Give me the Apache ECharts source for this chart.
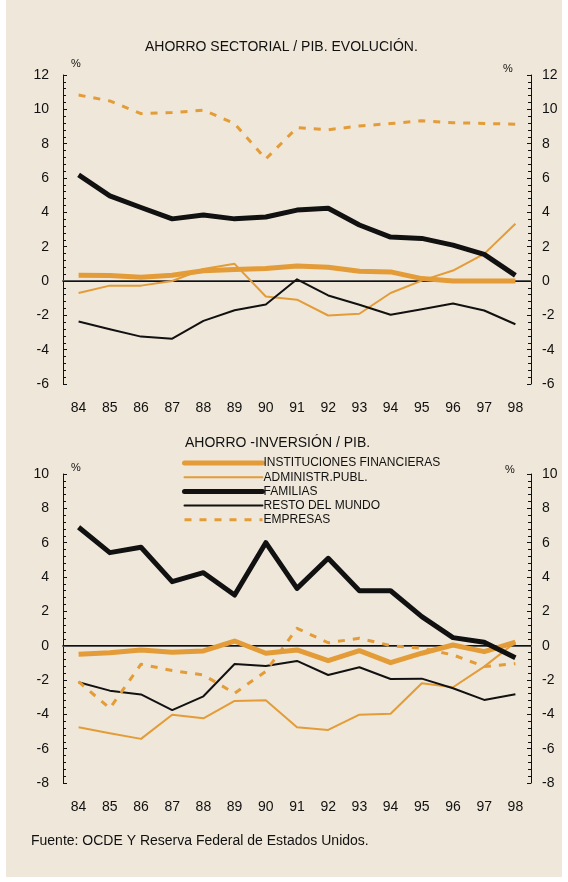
<!DOCTYPE html>
<html>
<head>
<meta charset="utf-8">
<script src="https://cdn.jsdelivr.net/npm/echarts@6/dist/echarts.min.js"></script>
<style>
  html, body { margin: 0; padding: 0; background: #ffffff; }
  #chart { width: 568px; height: 882px; }
</style>
</head>
<body>
<div id="chart"></div>
<script>
// años
var years = ['84', '85', '86', '87', '88', '89', '90', '91', '92', '93', '94', '95', '96', '97', '98'];

// ahorro sectorial / PIB
var topInst = [0.33, 0.32, 0.22, 0.33, 0.6, 0.67, 0.73, 0.88, 0.8, 0.57, 0.53, 0.14, 0.0, 0.0, 0.0];
var topAdmin = [-0.7, -0.27, -0.27, 0.0, 0.7, 1.0, -0.9, -1.09, -2.01, -1.91, -0.7, 0.02, 0.61, 1.58, 3.34];
var topFam = [6.18, 4.96, 4.28, 3.62, 3.85, 3.62, 3.73, 4.13, 4.24, 3.26, 2.56, 2.48, 2.09, 1.55, 0.33];
var topResto = [-2.36, -2.81, -3.24, -3.36, -2.32, -1.7, -1.37, 0.1, -0.84, -1.38, -1.97, -1.64, -1.31, -1.72, -2.52];
var topEmp = [10.83, 10.49, 9.75, 9.81, 9.95, 9.17, 7.11, 8.93, 8.81, 9.03, 9.17, 9.34, 9.22, 9.18, 9.13];

// ahorro - inversión / PIB
var botInst = [-0.5, -0.41, -0.25, -0.39, -0.31, 0.27, -0.44, -0.25, -0.87, -0.29, -0.99, -0.44, 0.04, -0.35, 0.2];
var botAdmin = [-4.75, -5.1, -5.43, -4.02, -4.23, -3.22, -3.18, -4.75, -4.91, -4.02, -3.97, -2.19, -2.42, -1.22, 0.2];
var botFam = [6.9, 5.42, 5.73, 3.73, 4.25, 2.95, 6.0, 3.34, 5.09, 3.2, 3.2, 1.69, 0.47, 0.2, -0.7];
var botResto = [-2.13, -2.62, -2.84, -3.75, -2.95, -1.07, -1.18, -0.89, -1.71, -1.26, -1.94, -1.92, -2.48, -3.16, -2.83];
var botEmp = [-2.1, -3.65, -1.08, -1.45, -1.71, -2.77, -1.5, 1.01, 0.17, 0.43, 0.0, -0.15, -0.54, -1.22, -1.05];

var names = ['INSTITUCIONES FINANCIERAS', 'ADMINISTR.PUBL.', 'FAMILIAS', 'RESTO DEL MUNDO', 'EMPRESAS'];

var ORANGE = '#e39c37';
var INK = '#111111';
var FONT = 'Liberation Sans, Arial, Helvetica, sans-serif';

var styles = [
  {color: ORANGE, width: 5, type: 'solid'},
  {color: ORANGE, width: 2, type: 'solid'},
  {color: INK, width: 5, type: 'solid'},
  {color: INK, width: 2, type: 'solid'},
  {color: ORANGE, width: 3, type: [7, 8]}
];

function xAxisFor(idx) {
  return {
    type: 'category',
    gridIndex: idx,
    data: years,
    boundaryGap: true,
    axisLine: {lineStyle: {color: '#555', width: 2}},
    axisTick: {inside: true, length: 5, lineStyle: {color: '#555', width: 1}},
    axisLabel: {color: INK, fontSize: 14, fontFamily: FONT, margin: 17}
  };
}

function yAxisFor(idx, min, max, pos) {
  return {
    type: 'value',
    gridIndex: idx,
    position: pos,
    min: min,
    max: max,
    interval: 2,
    splitLine: {show: false},
    axisLine: {show: true, lineStyle: {color: INK, width: 1}},
    axisTick: {show: true, inside: true, length: 4, lineStyle: {color: INK}},
    minorTick: {show: true, splitNumber: 5, length: 3, lineStyle: {color: INK}},
    axisLabel: {color: INK, fontSize: 14, fontFamily: FONT, margin: pos === 'left' ? 14 : 11}
  };
}

function seriesFor(idx, dataSets) {
  return dataSets.map(function (d, i) {
    var s = {
      name: names[i],
      type: 'line',
      xAxisIndex: idx,
      yAxisIndex: idx * 2,
      data: d,
      symbol: 'none',
      smooth: false,
      z: i === 2 ? 5 : 3,
      lineStyle: {color: styles[i].color, width: styles[i].width, type: styles[i].type, cap: 'butt', join: 'round'},
      itemStyle: {color: styles[i].color}
    };
    if (i === 0) {
      s.markLine = {
        silent: true,
        symbol: 'none',
        label: {show: false},
        lineStyle: {color: INK, width: 1, type: 'solid'},
        data: [{yAxis: 0}],
        z: 1
      };
    }
    return s;
  });
}

var option = {
  backgroundColor: 'transparent',
  animation: false,
  textStyle: {fontFamily: FONT},
  title: [
    {text: 'AHORRO SECTORIAL / PIB. EVOLUCIÓN.', left: 145, top: 40, padding: 0,
      textStyle: {fontSize: 14, fontWeight: 'normal', color: INK, fontFamily: FONT}},
    {text: 'AHORRO -INVERSIÓN / PIB.', left: 185, top: 436, padding: 0,
      textStyle: {fontSize: 14, fontWeight: 'normal', color: INK, fontFamily: FONT}}
  ],
  legend: {
    orient: 'vertical',
    left: 182,
    top: 457,
    padding: 0,
    itemWidth: 78,
    itemHeight: 12,
    itemGap: 2.2,
    selectedMode: false,
    textStyle: {color: INK, fontSize: 12, fontFamily: FONT, padding: [0, 0, 0, -4]},
    data: names.map(function (n, i) {
      return {
        name: n,
        itemStyle: {color: 'rgba(0,0,0,0)', borderColor: 'rgba(0,0,0,0)', borderWidth: 0, opacity: 0},
        lineStyle: {color: styles[i].color, width: styles[i].width, type: styles[i].type, cap: i === 4 ? 'butt' : 'round'}
      };
    })
  },
  graphic: [
    {type: 'rect', left: 6, top: 0, shape: {width: 556, height: 877}, style: {fill: '#efe7d9'}, z: -10, silent: true},
    {type: 'text', left: 71, top: 58, style: {text: '%', fill: INK, font: '11px ' + FONT}},
    {type: 'text', left: 503, top: 63, style: {text: '%', fill: INK, font: '11px ' + FONT}},
    {type: 'text', left: 71, top: 462, style: {text: '%', fill: INK, font: '11px ' + FONT}},
    {type: 'text', left: 505, top: 464, style: {text: '%', fill: INK, font: '11px ' + FONT}},
    {type: 'text', left: 31, top: 834, style: {text: 'Fuente: OCDE Y Reserva Federal de Estados Unidos.', fill: INK, font: '14px ' + FONT}}
  ],
  grid: [
    {left: 63, right: 37, top: 75, height: 309},
    {left: 63, right: 37, top: 474, height: 309}
  ],
  xAxis: [xAxisFor(0), xAxisFor(1)],
  yAxis: [
    yAxisFor(0, -6, 12, 'left'), yAxisFor(0, -6, 12, 'right'),
    yAxisFor(1, -8, 10, 'left'), yAxisFor(1, -8, 10, 'right')
  ],
  series: seriesFor(0, [topInst, topAdmin, topFam, topResto, topEmp])
    .concat(seriesFor(1, [botInst, botAdmin, botFam, botResto, botEmp]))
};

var chart = echarts.init(document.getElementById('chart'));
chart.setOption(option);
</script>
</body>
</html>
